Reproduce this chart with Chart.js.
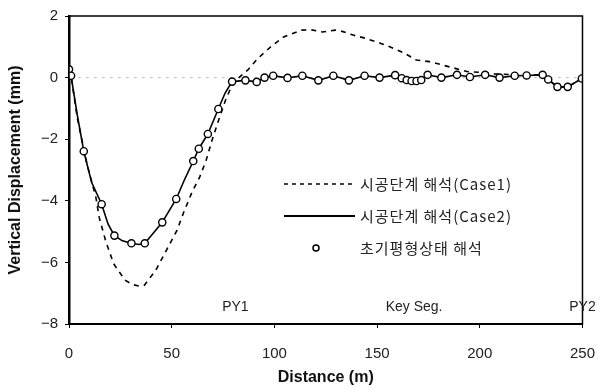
<!DOCTYPE html>
<html>
<head>
<meta charset="utf-8">
<script src="https://cdn.jsdelivr.net/npm/chart.js@4/dist/chart.umd.min.js"></script>
<style>
  html, body { margin: 0; padding: 0; background: #fff; }
  #wrap { width: 612px; height: 389px; }
</style>
</head>
<body>
<div id="wrap"><canvas id="myChart" width="612" height="389"></canvas></div>
<script>
// tick labels
var xTicks = [0, 50, 100, 150, 200, 250];
var yTicks = [-8, -6, -4, -2, 0, 2];

// series names
var names = ['시공단계 해석(Case1)', '시공단계 해석(Case2)', '초기평형상태 해석'];

// dashed line - Case1
var case1X = [0, 1, 4, 8.8, 13.1, 14.7, 17.8, 21.7, 27.3, 31, 34.4, 36.7, 42.2, 47.8, 52.5, 56, 60, 63.5, 66.7, 69.8, 73, 76.1, 79, 81, 87.1, 91.9, 98.2, 104.5, 113.2, 118, 123.4, 129.7, 133, 138.4, 144.7, 151.8, 158.1, 163.6, 169.1, 175.4, 181.7, 188, 194.3, 200.6, 207, 215, 222, 230, 233.3, 237.8, 242.8, 249.7];
var case1Y = [0.27, 0.06, -1.3, -2.82, -3.89, -4.54, -5.29, -6.04, -6.58, -6.72, -6.77, -6.74, -6.26, -5.56, -4.97, -4.35, -3.7, -3.25, -2.7, -2.0, -1.35, -0.75, -0.3, -0.1, 0.25, 0.62, 1.0, 1.32, 1.54, 1.55, 1.48, 1.54, 1.5, 1.38, 1.27, 1.11, 0.95, 0.78, 0.57, 0.52, 0.41, 0.3, 0.19, 0.17, 0.12, 0.1, 0.08, 0.09, -0.06, -0.3, -0.3, -0.03];

// solid line - Case2
var case2X = [0, 1, 4, 7.2, 11, 15.9, 19, 22.1, 26, 30.4, 34, 36.9, 41, 45.4, 52.2, 56, 60.5, 63.2, 67.6, 72.7, 76, 79.4, 85.9, 91.4, 95.2, 99.4, 106.4, 113.6, 121.4, 128.7, 136.3, 143.9, 151.2, 158.8, 162, 164.4, 166.8, 169.2, 171.5, 174.6, 181.3, 188.9, 195.2, 202.6, 209.6, 217, 222.8, 230.6, 233.3, 237.8, 242.8, 249.7];
var case2Y = [0.27, 0.06, -1.2, -2.39, -3.4, -4.11, -4.75, -5.13, -5.3, -5.38, -5.42, -5.38, -5.05, -4.7, -3.94, -3.35, -2.71, -2.31, -1.83, -1.02, -0.5, -0.13, -0.09, -0.14, 0.0, 0.06, -0.01, 0.06, -0.09, 0.06, -0.09, 0.06, 0.0, 0.08, -0.02, -0.08, -0.11, -0.11, -0.08, 0.09, 0.0, 0.09, 0.02, 0.09, 0.0, 0.06, 0.07, 0.09, -0.06, -0.3, -0.3, -0.03];

// circles - initial equilibrium
var initX = [0, 1, 7.2, 15.9, 22.1, 30.4, 36.9, 45.4, 52.2, 60.5, 63.2, 67.6, 72.7, 79.4, 85.9, 91.4, 95.2, 99.4, 106.4, 113.6, 121.4, 128.7, 136.3, 143.9, 151.2, 158.8, 162, 164.4, 166.8, 169.2, 171.5, 174.6, 181.3, 188.9, 195.2, 202.6, 209.6, 217, 222.8, 230.6, 233.3, 237.8, 242.8, 249.7];
var initY = [0.27, 0.06, -2.39, -4.11, -5.13, -5.38, -5.38, -4.7, -3.94, -2.71, -2.31, -1.83, -1.02, -0.13, -0.09, -0.14, 0.0, 0.06, -0.01, 0.06, -0.09, 0.06, -0.09, 0.06, 0.0, 0.08, -0.02, -0.08, -0.11, -0.11, -0.08, 0.09, 0.0, 0.09, 0.02, 0.09, 0.0, 0.06, 0.07, 0.09, -0.06, -0.3, -0.3, -0.03];

// text markers along the alignment
var markLabels = ['PY1', 'Key Seg.', 'PY2'];
var markX = [81, 168, 250];
var markY = -7.45;

function pts(xs, ys) {
    return xs.map(function (x, i) { return {x: x, y: ys[i]}; });
}

var tickFont = {family: 'Liberation Sans', size: 15};

//draws the box, the text markers and the legend inside the plot
var extras = {
    id: 'extras',
    afterDraw: function (chart) {
        var c = chart.ctx, a = chart.chartArea;
        var xs = chart.scales.x, ys = chart.scales.y;
        c.save();
        c.strokeStyle = '#000';
        c.lineWidth = 1.5;
        c.strokeRect(a.left, a.top, a.right - a.left, a.bottom - a.top);

        c.fillStyle = '#222';
        c.font = '14px "Liberation Sans"';
        c.textAlign = 'center';
        c.textBaseline = 'middle';
        for (var i = 0; i < markLabels.length; i++) {
            c.fillText(markLabels[i], xs.getPixelForValue(markX[i]), ys.getPixelForValue(markY));
        }

        // legend
        var lx0 = 284, lx1 = 355, tx = 360, rows = [184, 216, 248];
        c.lineWidth = 1.5;
        c.setLineDash([4, 4]);
        c.beginPath(); c.moveTo(lx0, rows[0]); c.lineTo(lx1, rows[0]); c.stroke();
        c.setLineDash([]);
        c.lineWidth = 2;
        c.beginPath(); c.moveTo(lx0, rows[1]); c.lineTo(lx1, rows[1]); c.stroke();
        c.lineWidth = 1.5;
        c.beginPath(); c.arc(316, rows[2], 3, 0, Math.PI * 2); c.stroke();
        c.font = '15px "Noto Sans CJK KR"';
        c.letterSpacing = '1px';
        c.textAlign = 'left';
        for (var j = 0; j < names.length; j++) {
            c.fillText(names[j], tx, rows[j]);
        }
        c.restore();
    }
};

var ctx = document.getElementById('myChart').getContext('2d');
var chart = new Chart(ctx, {
    type: 'line',
    data: {
        datasets: [{
            label: names[0],
            data: pts(case1X, case1Y),
            borderColor: '#000',
            borderWidth: 1.6,
            borderDash: [5, 5],
            pointRadius: 0,
            order: 3
        },
        {
            label: names[1],
            data: pts(case2X, case2Y),
            borderColor: '#000',
            borderWidth: 1.6,
            pointRadius: 0,
            order: 2
        },
        {
            label: names[2],
            data: pts(initX, initY),
            showLine: false,
            pointStyle: 'circle',
            pointRadius: 3.6,
            pointBorderWidth: 1.4,
            pointBorderColor: '#000',
            pointBackgroundColor: '#fff',
            order: 1
        }]
    },
    options: {
        responsive: false,
        animation: false,
        layout: {padding: {top: 14, right: 15, left: 0, bottom: 0}},
        plugins: {legend: {display: false}, tooltip: {enabled: false}},
        scales: {
            x: {
                type: 'linear',
                min: 0, max: 250,
                afterBuildTicks: function (s) { s.ticks = xTicks.map(function (v) { return {value: v}; }); },
                afterFit: function (s) { s.height = 65; },
                ticks: {font: tickFont, color: '#222', padding: 17, maxRotation: 0},
                grid: {drawOnChartArea: false, tickLength: 4, color: '#000'},
                border: {color: '#000', width: 2},
                title: {display: true, text: 'Distance (m)', color: '#111',
                        font: {family: 'Liberation Sans', size: 16, weight: 'bold'},
                        padding: {top: 0, bottom: 2}}
            },
            y: {
                min: -8, max: 2,
                afterBuildTicks: function (s) { s.ticks = yTicks.map(function (v) { return {value: v}; }); },
                afterFit: function (s) { s.width = 69; },
                ticks: {font: tickFont, color: '#222', padding: 7,
                        callback: function (v) { return v < 0 ? '\u2212' + Math.abs(v) : String(v); }},
                grid: {
                    tickLength: 4,
                    tickColor: '#000',
                    lineWidth: 1,
                    color: function (c) { return c.tick && c.tick.value === 0 ? '#b5b5b5' : 'rgba(0,0,0,0)'; }
                },
                border: {color: '#000', width: 2.5, dash: [2, 6]},
                title: {display: true, text: 'Vertical Displacement (mm)', color: '#111',
                        font: {family: 'Liberation Sans', size: 16, weight: 'bold'},
                        padding: {top: 6, bottom: 0}}
            }
        }
    },
    plugins: [extras]
});
</script>
</body>
</html>
